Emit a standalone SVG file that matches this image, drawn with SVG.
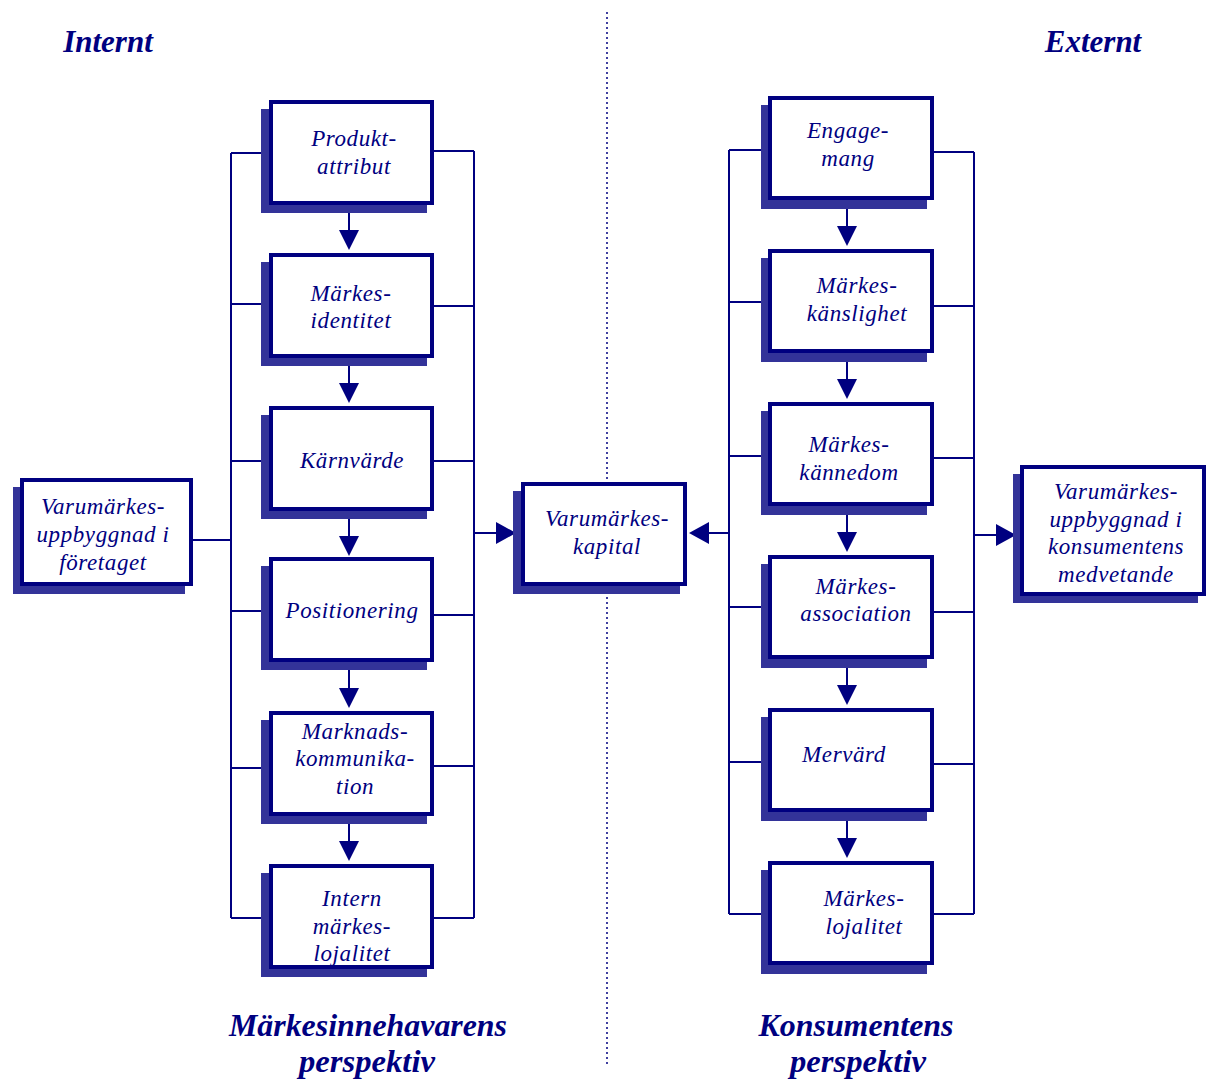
<svg xmlns="http://www.w3.org/2000/svg" width="1207" height="1082" viewBox="0 0 1207 1082">
<style>
.shadow{fill:#333399}
.box{fill:#ffffff;stroke:#000080;stroke-width:4}
.t{font-family:"Liberation Serif","Times New Roman",serif;font-style:italic;font-size:23px;letter-spacing:0.6px;fill:#000080;text-anchor:middle}
.h{font-family:"Liberation Serif","Times New Roman",serif;font-style:italic;font-weight:bold;font-size:31px;fill:#000080;text-anchor:middle}
.ln{stroke:#000080;stroke-width:2;fill:none}
.ah{fill:#000080}
</style>
<rect width="1207" height="1082" fill="#ffffff"/>
<line x1="607" y1="12" x2="607" y2="1066" stroke="#000080" stroke-width="1.5" stroke-dasharray="2,3"/>
<g id="titles">
<text class="h" x="108" y="52">Internt</text>
<text class="h" x="1093" y="52">Externt</text>
<text class="h" x="368" y="1036" textLength="278" lengthAdjust="spacingAndGlyphs">Märkesinnehavarens</text>
<text class="h" x="367" y="1072" textLength="136" lengthAdjust="spacingAndGlyphs">perspektiv</text>
<text class="h" x="856" y="1036" textLength="195" lengthAdjust="spacingAndGlyphs">Konsumentens</text>
<text class="h" x="858" y="1072" textLength="136" lengthAdjust="spacingAndGlyphs">perspektiv</text>
</g>
<g id="connectors">
<path class="ln" d="M231 153V918M231 153H270M231 304H270M231 461H270M231 611H270M231 768H270M231 918H270"/>
<path class="ln" d="M474 151V918M433 151H474M433 306H474M433 461H474M433 615H474M433 766H474M433 918H474"/>
<path class="ln" d="M192 540H231"/>
<path class="ln" d="M474 533H498"/>
<polygon class="ah" points="496,522 516,533 496,544"/>
<path class="ln" d="M729 150V914M729 150H769M729 302H769M729 456H769M729 607H769M729 762H769M729 914H769"/>
<path class="ln" d="M974 152V914M933 152H974M933 306H974M933 458H974M933 612H974M933 764H974M933 914H974"/>
<path class="ln" d="M729 533H706"/>
<polygon class="ah" points="709,522 689,533 709,544"/>
<path class="ln" d="M974 535H998"/>
<polygon class="ah" points="996,524 1016,535 996,546"/>
<path class="ln" d="M349 212V232M349 365V385M349 518V538M349 670V690M349 823V843"/>
<polygon class="ah" points="339,230 359,230 349,250"/>
<polygon class="ah" points="339,383 359,383 349,403"/>
<polygon class="ah" points="339,536 359,536 349,556"/>
<polygon class="ah" points="339,688 359,688 349,708"/>
<polygon class="ah" points="339,841 359,841 349,861"/>
<path class="ln" d="M847 208V228M847 361V381M847 514V534M847 667V687M847 820V840"/>
<polygon class="ah" points="837,226 857,226 847,246"/>
<polygon class="ah" points="837,379 857,379 847,399"/>
<polygon class="ah" points="837,532 857,532 847,552"/>
<polygon class="ah" points="837,685 857,685 847,705"/>
<polygon class="ah" points="837,838 857,838 847,858"/>
</g>
<g id="n-produkt"><rect class="shadow" x="261" y="109" width="166" height="104"/><rect class="box" x="271" y="102" width="161" height="101"/><text class="t" x="354" y="146">Produkt-</text><text class="t" x="354" y="174">attribut</text></g>
<g id="n-identitet"><rect class="shadow" x="261" y="262" width="166" height="104"/><rect class="box" x="271" y="255" width="161" height="101"/><text class="t" x="351" y="301">Märkes-</text><text class="t" x="351" y="328">identitet</text></g>
<g id="n-karnvarde"><rect class="shadow" x="261" y="415" width="166" height="104"/><rect class="box" x="271" y="408" width="161" height="101"/><text class="t" x="352" y="468">Kärnvärde</text></g>
<g id="n-positionering"><rect class="shadow" x="261" y="566" width="166" height="104"/><rect class="box" x="271" y="559" width="161" height="101"/><text class="t" x="352" y="618">Positionering</text></g>
<g id="n-marknad"><rect class="shadow" x="261" y="720" width="166" height="104"/><rect class="box" x="271" y="713" width="161" height="101"/><text class="t" x="355" y="739">Marknads-</text><text class="t" x="355" y="766">kommunika-</text><text class="t" x="355" y="794">tion</text></g>
<g id="n-intern"><rect class="shadow" x="261" y="873" width="166" height="104"/><rect class="box" x="271" y="866" width="161" height="101"/><text class="t" x="352" y="906">Intern</text><text class="t" x="352" y="934">märkes-</text><text class="t" x="352" y="961">lojalitet</text></g>
<g id="n-foretaget"><rect class="shadow" x="13" y="487" width="172" height="107"/><rect class="box" x="22" y="480" width="169" height="104"/><text class="t" x="103" y="514">Varumärkes-</text><text class="t" x="103" y="542">uppbyggnad i</text><text class="t" x="103" y="570">företaget</text></g>
<g id="n-kapital"><rect class="shadow" x="513" y="491" width="167" height="103"/><rect class="box" x="523" y="484" width="162" height="100"/><text class="t" x="607" y="526">Varumärkes-</text><text class="t" x="607" y="554">kapital</text></g>
<g id="n-engage"><rect class="shadow" x="761" y="105" width="166" height="104"/><rect class="box" x="770" y="98" width="162" height="100"/><text class="t" x="848" y="138">Engage-</text><text class="t" x="848" y="166">mang</text></g>
<g id="n-kanslighet"><rect class="shadow" x="761" y="258" width="166" height="104"/><rect class="box" x="770" y="251" width="162" height="100"/><text class="t" x="857" y="293">Märkes-</text><text class="t" x="857" y="321">känslighet</text></g>
<g id="n-kannedom"><rect class="shadow" x="761" y="411" width="166" height="104"/><rect class="box" x="770" y="404" width="162" height="100"/><text class="t" x="849" y="452">Märkes-</text><text class="t" x="849" y="480">kännedom</text></g>
<g id="n-association"><rect class="shadow" x="761" y="564" width="166" height="104"/><rect class="box" x="770" y="557" width="162" height="100"/><text class="t" x="856" y="594">Märkes-</text><text class="t" x="856" y="621">association</text></g>
<g id="n-mervard"><rect class="shadow" x="761" y="717" width="166" height="104"/><rect class="box" x="770" y="710" width="162" height="100"/><text class="t" x="844" y="762">Mervärd</text></g>
<g id="n-lojalitet"><rect class="shadow" x="761" y="870" width="166" height="104"/><rect class="box" x="770" y="863" width="162" height="100"/><text class="t" x="864" y="906">Märkes-</text><text class="t" x="864" y="934">lojalitet</text></g>
<g id="n-medvetande"><rect class="shadow" x="1013" y="474" width="185" height="129"/><rect class="box" x="1022" y="467" width="182" height="127"/><text class="t" x="1116" y="499">Varumärkes-</text><text class="t" x="1116" y="527">uppbyggnad i</text><text class="t" x="1116" y="554">konsumentens</text><text class="t" x="1116" y="582">medvetande</text></g>
</svg>
